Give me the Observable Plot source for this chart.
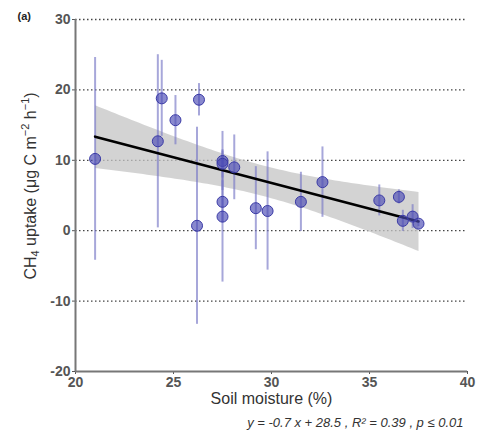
<!DOCTYPE html>
<html>
<head>
<meta charset="utf-8">
<script src="https://cdn.jsdelivr.net/npm/d3@7"></script>
<script src="https://cdn.jsdelivr.net/npm/@observablehq/plot@0.6"></script>
<style>
  html, body { margin: 0; padding: 0; background: #fff; }
  #chart { width: 478px; height: 441px; }
</style>
</head>
<body>
<div id="chart"></div>
<script>
const moisture = [21.0, 24.2, 24.4, 25.1, 26.3, 26.2, 27.5, 27.5, 27.5, 27.5, 28.1, 29.2, 29.8, 31.5, 32.6, 35.5, 36.5, 36.7, 37.2, 37.5];
const uptake   = [10.2, 12.7, 18.8, 15.7, 18.6, 0.7, 9.9, 9.5, 4.1, 2.0, 9.0, 3.2, 2.8, 4.1, 6.9, 4.3, 4.8, 1.4, 2.0, 1.0];
const uptakeSE = [14.4, 12.3, 5.4, 3.5, 2.3, 14.0, 4.2, 2.0, 3.0, 9.3, 4.6, 5.9, 8.4, 4.2, 5.0, 2.2, 1.0, 1.5, 1.7, 0.4];
const xTicks = [20, 25, 30, 35, 40];
const yTicks = [-20, -10, 0, 10, 20, 30];
const gridValues = [-10, 0, 10, 20, 30];
const xLabel = "Soil moisture (%)";
const equation = "y = -0.7 x + 28.5 , R² = 0.39 , p ≤ 0.01";
const panel = "(a)";

const data = moisture.map((x, i) => ({x, y: uptake[i], lo: uptake[i] - uptakeSE[i], hi: uptake[i] + uptakeSE[i]}));

const font = "'Liberation Sans', Arial, Helvetica, sans-serif";

const chart = Plot.plot({
  width: 478,
  height: 441,
  marginLeft: 75,
  marginRight: 11,
  marginTop: 19,
  marginBottom: 70,
  style: {fontFamily: font, background: "#fff"},
  x: {domain: [20, 40]},
  y: {domain: [-20, 30]},
  marks: [
    Plot.ruleY(gridValues, {stroke: "#444", strokeWidth: 1.3, strokeDasharray: "1.5,2.5"}),
    Plot.linearRegressionY(data, {x: "x", y: "y", stroke: "none", fill: "#c4c4c4", fillOpacity: 0.75}),
    Plot.ruleX(data, {x: "x", y1: "lo", y2: "hi", stroke: "#7878c6", strokeWidth: 2, strokeOpacity: 0.65}),
    Plot.linearRegressionY(data, {x: "x", y: "y", ci: 0, stroke: "#000", strokeWidth: 2.6}),
    Plot.dot(data, {x: "x", y: "y", r: 5.5, fill: "#4a4ab4", fillOpacity: 0.65, stroke: "#3a3aa6", strokeWidth: 1}),
    Plot.axisX({ticks: xTicks, tickFormat: d => String(d), tickSize: 3, tickPadding: 3, fontSize: 14, fontWeight: "bold", color: "#555", label: null}),
    Plot.axisY({ticks: yTicks, tickFormat: d => String(d), tickSize: 3, tickPadding: 2, fontSize: 14, fontWeight: "bold", color: "#555", label: null}),
    Plot.ruleX([20], {stroke: "#777", strokeWidth: 2}),
    Plot.ruleY([-20], {stroke: "#777", strokeWidth: 2}),
    Plot.text([xLabel], {frameAnchor: "bottom", dy: 32, fontSize: 16, fill: "#333"}),
    Plot.text([equation], {frameAnchor: "bottom-right", dy: 55, dx: -4, textAnchor: "end", fontSize: 13, fontStyle: "italic", fill: "#333"}),
    Plot.text([panel], {frameAnchor: "top-left", dx: -58, dy: -7, fontSize: 11, fontWeight: "bold", fill: "#222"})
  ]
});

// Y-axis label with subscript/superscripts
const svg = d3.select(chart);
const yl = svg.append("text")
  .attr("transform", "translate(32,186) rotate(-90)")
  .attr("text-anchor", "middle")
  .attr("dominant-baseline", "middle")
  .attr("font-size", 16)
  .attr("font-family", font)
  .attr("fill", "#333");
yl.append("tspan").text("CH");
yl.append("tspan").attr("font-size", 11).attr("dy", 4).text("4");
yl.append("tspan").attr("dy", -4).text(" uptake (μg C m");
yl.append("tspan").attr("font-size", 11).attr("dy", -6).text("−2");
yl.append("tspan").attr("dy", 6).text(" h");
yl.append("tspan").attr("font-size", 11).attr("dy", -6).text("−1");
yl.append("tspan").attr("dy", 6).text(")");

document.getElementById("chart").appendChild(chart);
</script>
</body>
</html>
